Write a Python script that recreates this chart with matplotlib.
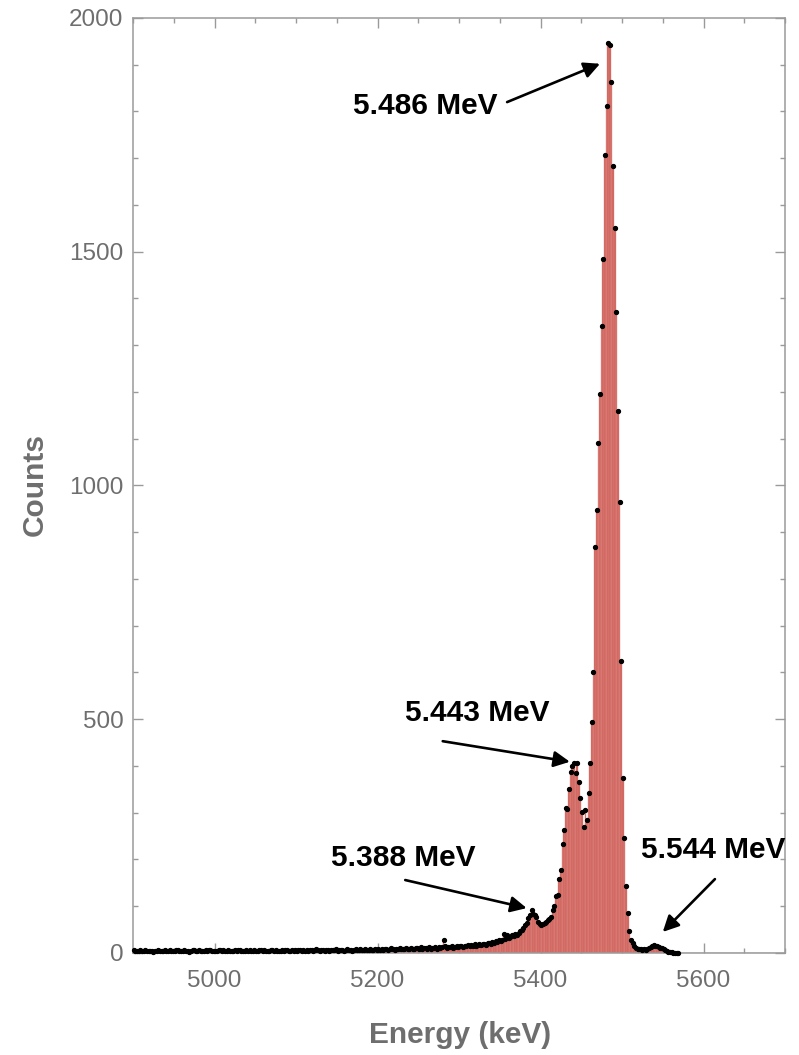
import numpy as np
import matplotlib
matplotlib.use("Agg")
import matplotlib.pyplot as plt
from matplotlib import font_manager
from matplotlib.ticker import MultipleLocator

# cuentas por canal (canales de 2 keV, centro del primero en 4901 keV)
counts_low = [6, 5, 4, 5, 6, 4, 5, 7, 5, 4,
              4, 5, 3, 4, 5, 6, 4, 5, 5, 6,
              5, 4, 6, 5, 4, 5, 7, 6, 5, 4,
              5, 6, 5, 4, 3, 5, 6, 7, 5, 4,
              6, 5, 4, 5, 6, 5, 7, 6, 5, 4,
              5, 4, 6, 7, 5, 6, 5, 4, 6, 5,
              4, 5, 6, 5, 7, 6, 5, 4, 5, 6,
              5, 6, 4, 5, 6, 5, 4, 6, 7, 5,
              6, 5, 4, 5, 6, 7, 5, 6, 5, 4,
              5, 6, 5, 7, 6, 5, 4, 6, 5, 6]          # 4901 - 5099
counts_mid = [5, 6, 7, 5, 6, 4, 6, 5, 7, 6,
              5, 6, 8, 6, 5, 7, 6, 5, 6, 7,
              5, 6, 7, 6, 8, 5, 7, 6, 7, 5,
              6, 8, 7, 6, 5, 7, 8, 6, 7, 8,
              6, 7, 9, 7, 6, 8, 7, 6, 8, 7,
              9, 7, 8, 6, 8, 9, 7, 8, 10, 8,
              7, 9, 8, 10, 9, 8, 9, 11, 8, 9,
              10, 8, 9, 11, 10]                       # 5101 - 5249
counts_rise = [9, 12, 8, 10, 11, 8, 12, 9, 11, 10,
               12, 9, 13, 10, 12, 28, 14, 10, 13, 12,
               14, 11, 13, 15, 12, 14, 15, 13, 16, 15,
               17, 14, 18, 15, 19, 16, 18, 20, 17, 19,
               20, 18, 21, 22, 20, 24, 22, 26, 24, 28,
               26, 28, 40, 30, 38, 32, 34, 38, 36, 40,
               38, 42, 46, 49, 53, 60, 65, 75, 81]    # 5251 - 5387
counts_peaks = [92, 83, 81, 77, 67, 62, 60, 62, 64, 67,
                71, 73, 78, 91, 101, 122, 124, 158, 178, 233,
                263, 310, 308, 351, 388, 399, 406, 386, 407, 366,
                331, 302, 270, 306, 284, 342, 407, 495, 600, 869,
                948, 1090, 1196, 1342, 1484, 1707, 1812, 1946, 1942, 1862,
                1683, 1551, 1372, 1159, 965, 625, 375, 245, 143, 86,
                47, 28, 21, 15, 11]                   # 5389 - 5517
counts_tail = [9, 8, 9, 7, 8, 7, 9, 10, 12, 14,
               17, 15, 16, 13, 11, 10, 8, 6, 4, 3,
               2, 2, 1, 1, 1, 1, 0, 0, 0, 0,
               0, 0, 0, 0, 0, 0, 0, 0, 0, 0,
               0, 0, 0, 0, 0, 0, 0, 0, 0, 0,
               0, 0, 0, 0, 0, 0, 0, 0, 0, 0,
               0, 0, 0, 0, 0, 0, 0, 0, 0, 0,
               0, 0, 0, 0, 0, 0, 0, 0, 0, 0,
               0, 0, 0, 0, 0, 0, 0, 0, 0, 0,
               0]                                     # 5519 - 5699

bin_width = 2
first_center = 4901

# etiquetas de los picos: (texto, posicion del texto, cola de flecha, punta de flecha)
peak_labels = ["5.486 MeV", "5.443 MeV", "5.388 MeV", "5.544 MeV"]
label_pos = [(5259, 1812), (5322, 513), (5231, 203), (5612, 220)]
arrow_tail = [(5359, 1820), (5280, 453), (5234, 156), (5614, 158)]
arrow_tip = [(5473, 1902), (5436, 409), (5383, 96), (5550, 45)]

counts = np.array(counts_low + counts_mid + counts_rise + counts_peaks + counts_tail)
energy = first_center + bin_width * np.arange(len(counts))

nombres = {f.name for f in font_manager.fontManager.ttflist}
fuente_etiqueta = "Liberation Sans Narrow" if "Liberation Sans Narrow" in nombres else "Liberation Sans"
tam_etiqueta = 25.5 if fuente_etiqueta == "Liberation Sans Narrow" else 21.5

plt.rcParams["font.family"] = ["Liberation Sans", "DejaVu Sans"]

gris_marco = "#9a9a9a"
gris_texto = "#6e6e6e"

fig = plt.figure(figsize=(7.99, 10.55), dpi=100)
ax = fig.add_axes([0.1665, 0.0967, 0.816, 0.8863])

ax.bar(energy, counts, width=bin_width, color="#cf605a", edgecolor="#df8e89",
       linewidth=0.3, zorder=2)
con_cuentas = counts > 0
ax.plot(energy[con_cuentas], counts[con_cuentas], "o", ms=2.8, color="black",
        zorder=3, clip_on=False)

ax.set_xlim(4900, 5700)
ax.set_ylim(0, 2000)

ax.set_xticks([5000, 5200, 5400, 5600])
ax.set_yticks([0, 500, 1000, 1500, 2000])
ax.xaxis.set_minor_locator(MultipleLocator(50))
ax.yaxis.set_minor_locator(MultipleLocator(100))
ax.tick_params(which="both", direction="in", top=True, right=True,
               color=gris_marco, width=1)
ax.tick_params(which="major", length=7)
ax.tick_params(which="minor", length=3.5)
ax.tick_params(axis="x", which="major", pad=12, labelsize=17.5, labelcolor=gris_texto)
ax.tick_params(axis="y", which="major", pad=7, labelsize=17.5, labelcolor=gris_texto)

for lado in ax.spines.values():
    lado.set_color(gris_marco)
    lado.set_linewidth(1.1)

ax.set_xlabel("Energy (keV)", fontsize=21.5, fontweight="bold", color=gris_texto)
ax.set_ylabel("Counts", fontsize=21.5, fontweight="bold", color=gris_texto)
ax.xaxis.set_label_coords(0.5015, -0.0877)
ax.xaxis.label.set_va("center")
ax.yaxis.set_label_coords(-0.150, 0.5005)
ax.yaxis.label.set_va("center")

for texto, pos, cola, punta in zip(peak_labels, label_pos, arrow_tail, arrow_tip):
    ax.text(pos[0], pos[1], texto, ha="center", va="center", fontsize=tam_etiqueta,
            fontweight="bold", family=[fuente_etiqueta, "DejaVu Sans"],
            color="black", clip_on=False, zorder=5)
    ax.annotate("", xy=punta, xytext=cola,
                arrowprops=dict(arrowstyle="-|>", lw=1.9, color="black",
                                mutation_scale=24, shrinkA=0, shrinkB=0),
                zorder=5, annotation_clip=False)

fig.savefig("out.png", dpi=100)
